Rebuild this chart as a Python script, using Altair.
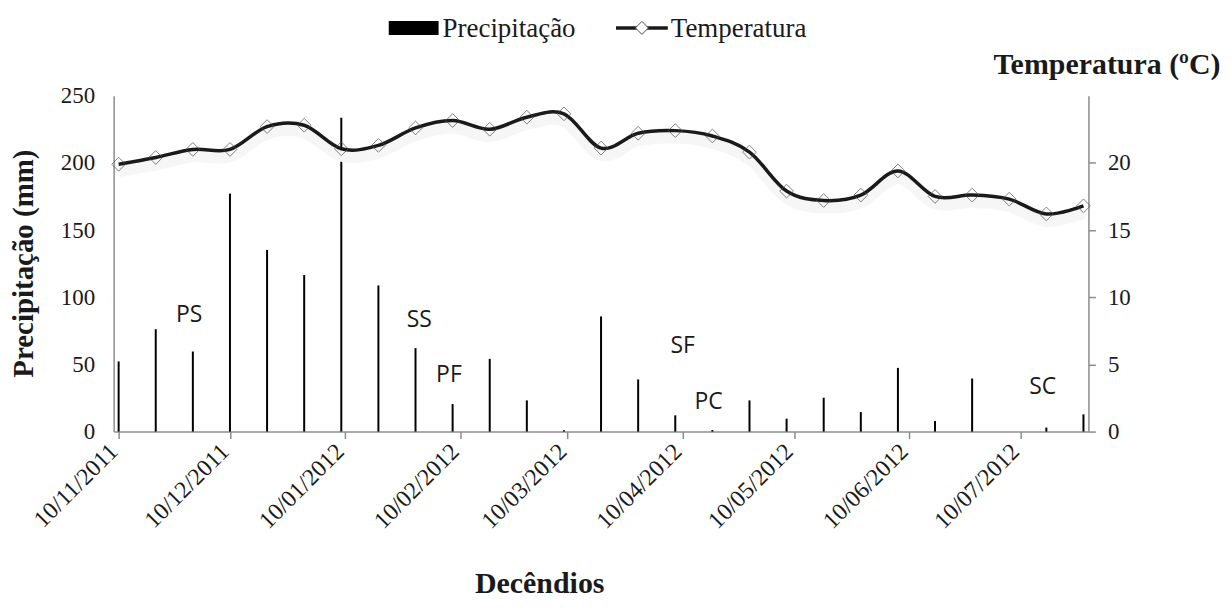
import altair as alt
import pandas as pd

# Decêndios (10-day periods)
dates = ["2011-11-10", "2011-11-20", "2011-11-30", "2011-12-10", "2011-12-20", "2011-12-30",
         "2012-01-09", "2012-01-19", "2012-01-29", "2012-02-08", "2012-02-18", "2012-02-28",
         "2012-03-09", "2012-03-19", "2012-03-29", "2012-04-08", "2012-04-18", "2012-04-28",
         "2012-05-08", "2012-05-18", "2012-05-28", "2012-06-07", "2012-06-17", "2012-06-27",
         "2012-07-07", "2012-07-17", "2012-07-27"]
precipitacao = [52.2, 76.2, 59.6, 177.1, 135.2, 116.5, 233.5, 108.8, 62.1, 20.5, 54.1, 23.2,
                1.0, 85.7, 38.8, 12.1, 1.2, 23.2, 9.6, 25.2, 14.5, 47.4, 7.9, 39.5, 0.0, 3.0, 12.8]
temperatura = [19.9, 20.4, 21.0, 21.0, 22.7, 22.8, 21.05, 21.3, 22.6, 23.15, 22.5, 23.4,
               23.65, 21.1, 22.2, 22.4, 22.0, 20.8, 17.9, 17.2, 17.6, 19.4, 17.5, 17.6, 17.3, 16.2, 16.8]

# Stage labels
stage_labels = ["PS", "SS", "PF", "SF", "PC", "SC"]
stage_dates = ["2011-11-29", "2012-01-30", "2012-02-07", "2012-04-10", "2012-04-17", "2012-07-16"]
stage_y = [87, 83, 42, 64, 22, 33]

tick_months = [(2011, 11), (2011, 12), (2012, 1), (2012, 2), (2012, 3), (2012, 4),
               (2012, 5), (2012, 6), (2012, 7)]

df = pd.DataFrame({"date": dates, "prec": precipitacao, "temp": temperatura})
stages = pd.DataFrame({"label": stage_labels, "date": stage_dates, "y": stage_y})
one = pd.DataFrame({"k": [0]})

SERIF = "Liberation Serif"
GRAY = "#8c8c8c"

x_scale = alt.Scale(
    type="utc",
    domain=[alt.DateTime(year=2011, month=11, date=10, utc=True),
            alt.DateTime(year=2012, month=7, date=27, utc=True)],
)
x_axis = alt.Axis(
    values=[alt.DateTime(year=y, month=m, date=10, utc=True) for y, m in tick_months],
    format="%d/%m/%Y", labelAngle=-45, labelAlign="right", labelBaseline="middle",
    labelPadding=9, labelOffset=-5, tickSize=7, grid=False, labelFontSize=24, labelFont=SERIF,
    title="Decêndios", titleFont=SERIF, titleFontSize=30, titleFontWeight="bold",
    titleX=427, titleY=152, titleAnchor="middle", titleBaseline="middle",
)
x_enc = alt.X("date:T", scale=x_scale, axis=x_axis)

p_scale = alt.Scale(domain=[0, 250], nice=False)
t_scale = alt.Scale(domain=[0, 25], nice=False)

bars = alt.Chart(df).mark_bar(size=2, color="#000000").encode(
    x=x_enc,
    y=alt.Y("prec:Q", scale=p_scale, axis=alt.Axis(
        orient="left", values=[0, 50, 100, 150, 200, 250], ticks=False, grid=False,
        labelPadding=19, labelFontSize=23, labelFont=SERIF,
        title="Precipitação (mm)", titleFont=SERIF, titleFontSize=29, titleFontWeight="bold",
        titleX=-90, titleY=168, titleAngle=-90, titleAlign="center", titleBaseline="middle")),
)

shadow = alt.Chart(df).mark_line(interpolate="cardinal", tension=0, strokeWidth=12,
                                 color="#f6f6f6", yOffset=7).encode(
    x=x_enc, y=alt.Y("temp:Q", scale=t_scale, axis=None))

line = alt.Chart(df).mark_line(interpolate="cardinal", tension=0, strokeWidth=3.5,
                               color="#1a1a1a").encode(
    x=x_enc,
    y=alt.Y("temp:Q", scale=t_scale, axis=alt.Axis(
        orient="right", values=[0, 5, 10, 15, 20], tickSize=7, grid=False,
        labelPadding=12, labelFontSize=23, labelFont=SERIF,
        title="Temperatura (ºC)", titleFont=SERIF, titleFontSize=30, titleFontWeight="bold",
        titleAngle=0, titleX=132, titleY=-22, titleAlign="right", titleBaseline="alphabetic")),
)

points = alt.Chart(df).mark_point(shape="diamond", size=190, filled=False, color="#4a4a4a",
                                  strokeWidth=1).encode(
    x=x_enc, y=alt.Y("temp:Q", scale=t_scale, axis=None))

labels = alt.Chart(stages).mark_text(font="Open Sans", fontSize=23, color="#1a1a1a",
                                     align="center", baseline="middle").encode(
    x=x_enc, y=alt.Y("y:Q", scale=p_scale, axis=None), text="label:N")

# Manual legend
leg_rect = alt.Chart(one).mark_rect(color="#000000").encode(
    x=alt.value(276), x2=alt.value(326), y=alt.value(-75), y2=alt.value(-61))
leg_t1 = alt.Chart(one).mark_text(text="Precipitação", font=SERIF, fontSize=27, align="left",
                                  baseline="middle", color="#1a1a1a").encode(
    x=alt.value(330), y=alt.value(-67))
leg_line = alt.Chart(one).mark_rule(color="#1a1a1a", strokeWidth=3.5).encode(
    x=alt.value(504), x2=alt.value(556), y=alt.value(-68))
leg_pt = alt.Chart(one).mark_point(shape="diamond", size=170, filled=True, fill="white",
                                   stroke="#4a4a4a", strokeWidth=1, opacity=1).encode(
    x=alt.value(530), y=alt.value(-68))
leg_t2 = alt.Chart(one).mark_text(text="Temperatura", font=SERIF, fontSize=27, align="left",
                                  baseline="middle", color="#1a1a1a").encode(
    x=alt.value(559), y=alt.value(-67))

chart = alt.layer(
    bars, shadow, line, points, labels, leg_rect, leg_t1, leg_line, leg_pt, leg_t2
).resolve_scale(y="independent").properties(
    width=978, height=337,
    padding={"left": 106, "top": 87, "right": 136, "bottom": 170},
    autosize=alt.AutoSizeParams(type="none"),
).configure_view(stroke=None).configure_axis(
    domainColor=GRAY, tickColor=GRAY, domainWidth=1.5, tickWidth=1.5,
    labelColor="#1a1a1a", titleColor="#1a1a1a", labelFont=SERIF, titleFont=SERIF,
)

chart.save("out.html", embed_options={"renderer": "svg", "actions": False})
